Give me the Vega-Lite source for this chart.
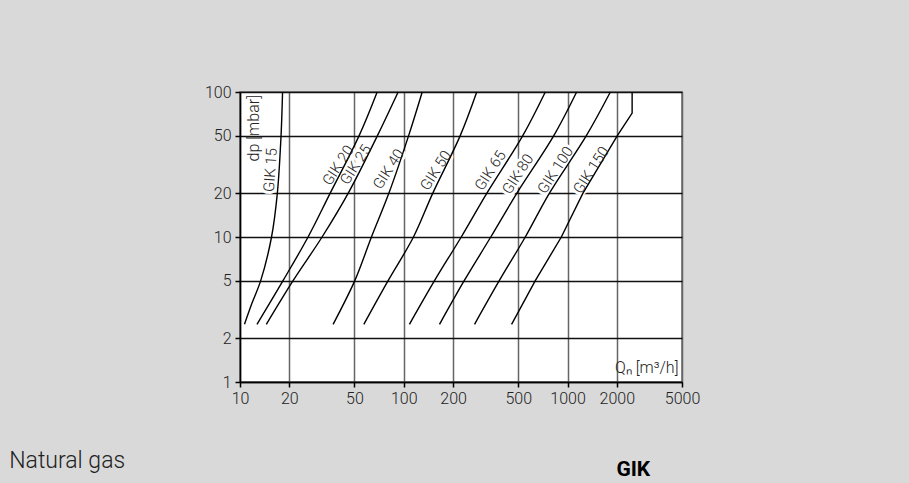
{
  "$schema": "https://vega.github.io/schema/vega-lite/v6.json",
  "width": 442,
  "height": 290,
  "autosize": {"type": "none"},
  "padding": {"left": 240, "top": 92, "right": 227, "bottom": 101},
  "background": "#d9d9d9",
  "config": {
    "view": {"fill": "white", "stroke": "#666666", "strokeWidth": 1.5},
    "font": "Roboto"
  },
  "datasets": {
    "curves": [
      {"series": "GIK 15", "q": 10.65, "dp": 2.5},
      {"series": "GIK 15", "q": 11.84, "dp": 3.5},
      {"series": "GIK 15", "q": 13.38, "dp": 5},
      {"series": "GIK 15", "q": 15.58, "dp": 10},
      {"series": "GIK 15", "q": 16.9, "dp": 20},
      {"series": "GIK 15", "q": 17.81, "dp": 50},
      {"series": "GIK 15", "q": 18.19, "dp": 100},
      {"series": "GIK 20", "q": 12.7, "dp": 2.5},
      {"series": "GIK 20", "q": 18.31, "dp": 5},
      {"series": "GIK 20", "q": 26.04, "dp": 10},
      {"series": "GIK 20", "q": 35.49, "dp": 20},
      {"series": "GIK 20", "q": 53.4, "dp": 50},
      {"series": "GIK 20", "q": 68.8, "dp": 100},
      {"series": "GIK 25", "q": 14.48, "dp": 2.5},
      {"series": "GIK 25", "q": 21.09, "dp": 5},
      {"series": "GIK 25", "q": 31.71, "dp": 10},
      {"series": "GIK 25", "q": 45.73, "dp": 20},
      {"series": "GIK 25", "q": 69.06, "dp": 50},
      {"series": "GIK 25", "q": 92.4, "dp": 100},
      {"series": "GIK 40", "q": 37.03, "dp": 2.5},
      {"series": "GIK 40", "q": 50.24, "dp": 5},
      {"series": "GIK 40", "q": 63.48, "dp": 10},
      {"series": "GIK 40", "q": 81.06, "dp": 20},
      {"series": "GIK 40", "q": 107.1, "dp": 50},
      {"series": "GIK 40", "q": 129.6, "dp": 100},
      {"series": "GIK 50", "q": 57.04, "dp": 2.5},
      {"series": "GIK 50", "q": 80.26, "dp": 5},
      {"series": "GIK 50", "q": 114.6, "dp": 10},
      {"series": "GIK 50", "q": 150.2, "dp": 20},
      {"series": "GIK 50", "q": 221.2, "dp": 50},
      {"series": "GIK 50", "q": 279.0, "dp": 100},
      {"series": "GIK 65", "q": 108.3, "dp": 2.5},
      {"series": "GIK 65", "q": 154.1, "dp": 5},
      {"series": "GIK 65", "q": 224.4, "dp": 10},
      {"series": "GIK 65", "q": 321.2, "dp": 20},
      {"series": "GIK 65", "q": 533.1, "dp": 50},
      {"series": "GIK 65", "q": 731.6, "dp": 100},
      {"series": "GIK 80", "q": 165.3, "dp": 2.5},
      {"series": "GIK 80", "q": 233.9, "dp": 5},
      {"series": "GIK 80", "q": 339.8, "dp": 10},
      {"series": "GIK 80", "q": 489.9, "dp": 20},
      {"series": "GIK 80", "q": 824.5, "dp": 50},
      {"series": "GIK 80", "q": 1136.7, "dp": 100},
      {"series": "GIK 100", "q": 270.5, "dp": 2.5},
      {"series": "GIK 100", "q": 382.9, "dp": 5},
      {"series": "GIK 100", "q": 552.1, "dp": 10},
      {"series": "GIK 100", "q": 773.9, "dp": 20},
      {"series": "GIK 100", "q": 1303, "dp": 50},
      {"series": "GIK 100", "q": 1826, "dp": 100},
      {"series": "GIK 150", "q": 455.3, "dp": 2.5},
      {"series": "GIK 150", "q": 635.6, "dp": 5},
      {"series": "GIK 150", "q": 916.6, "dp": 10},
      {"series": "GIK 150", "q": 1240, "dp": 20},
      {"series": "GIK 150", "q": 2015, "dp": 50},
      {"series": "GIK 150", "q": 2480, "dp": 71.6},
      {"series": "GIK 150", "q": 2480, "dp": 100}
    ],
    "labels": [
      {"label": "GIK 15", "q": 15.32, "dp": 29.0},
      {"label": "GIK 20", "q": 39.7, "dp": 31.2},
      {"label": "GIK 25", "q": 50.8, "dp": 31.6},
      {"label": "GIK 40", "q": 80.6, "dp": 29.4},
      {"label": "GIK 50", "q": 156.7, "dp": 28.8},
      {"label": "GIK 65", "q": 337.3, "dp": 28.8},
      {"label": "GIK 80", "q": 496.5, "dp": 27.2},
      {"label": "GIK 100", "q": 842.2, "dp": 29.0},
      {"label": "GIK 150", "q": 1394, "dp": 29.0}
    ],
    "notes": [
      {"note": "Natural gas", "q": 0.39, "dp": 0.2562},
      {"note": "GIK", "q": 1988, "dp": 0.223}
    ]
  },
  "encoding": {
    "x": {
      "field": "q",
      "type": "quantitative",
      "scale": {"type": "log", "domain": [10, 5000], "nice": false},
      "axis": {
        "values": [10, 20, 50, 100, 200, 500, 1000, 2000, 5000],
        "format": "d",
        "title": "Qₙ [m³/h]",
        "titleX": 438,
        "titleY": -10,
        "titleAlign": "right",
        "titleBaseline": "alphabetic",
        "titleFontSize": 16,
        "titleFontWeight": 300,
        "titleColor": "#222222",
        "labelFontSize": 16,
        "labelFontWeight": 300,
        "labelColor": "#222222",
        "labelFlush": false,
        "labelOverlap": false,
        "labelPadding": 3,
        "tickSize": 5,
        "tickColor": "#000000",
        "tickWidth": 1.5,
        "domainColor": "#000000",
        "domainWidth": 1.5,
        "grid": true,
        "gridColor": "#666666",
        "gridWidth": 1.5,
        "gridOpacity": 1
      }
    },
    "y": {
      "field": "dp",
      "type": "quantitative",
      "scale": {"type": "log", "domain": [1, 100], "nice": false},
      "axis": {
        "values": [1, 2, 5, 10, 20, 50, 100],
        "format": "d",
        "title": "dp [mbar]",
        "titleX": 13.3,
        "titleY": 35.7,
        "titleAngle": 270,
        "titleAlign": "center",
        "titleBaseline": "middle",
        "titleFontSize": 16,
        "titleFontWeight": 300,
        "titleColor": "#222222",
        "labelFontSize": 16,
        "labelFontWeight": 300,
        "labelColor": "#222222",
        "labelFlush": false,
        "labelOverlap": false,
        "labelPadding": 4,
        "tickSize": 5,
        "tickColor": "#000000",
        "tickWidth": 1.5,
        "domainColor": "#000000",
        "domainWidth": 1.5,
        "grid": true,
        "gridColor": "#111111",
        "gridWidth": 1.3,
        "gridOpacity": 1
      }
    }
  },
  "layer": [
    {
      "data": {"name": "labels"},
      "transform": [{"filter": "datum.label !== 'GIK 15'"}],
      "mark": {"type": "text", "angle": 303, "align": "center", "baseline": "middle", "fontSize": 15, "fontWeight": 300, "color": "white", "stroke": "white", "strokeWidth": 6, "strokeJoin": "round"},
      "encoding": {"text": {"field": "label"}}
    },
    {
      "data": {"name": "labels"},
      "transform": [{"filter": "datum.label === 'GIK 15'"}],
      "mark": {"type": "text", "angle": 274, "align": "center", "baseline": "middle", "fontSize": 15, "fontWeight": 300, "color": "white", "stroke": "white", "strokeWidth": 6, "strokeJoin": "round"},
      "encoding": {"text": {"field": "label"}}
    },
    {
      "data": {"name": "curves"},
      "transform": [{"filter": "datum.series !== 'GIK 150'"}],
      "mark": {"type": "line", "interpolate": "catmull-rom", "color": "#000000", "strokeWidth": 1.4},
      "encoding": {"detail": {"field": "series"}, "order": {"field": "dp"}}
    },
    {
      "data": {"name": "curves"},
      "transform": [{"filter": "datum.series === 'GIK 150'"}],
      "mark": {"type": "line", "interpolate": "linear", "color": "#000000", "strokeWidth": 1.4},
      "encoding": {"detail": {"field": "series"}, "order": {"field": "dp"}}
    },
    {
      "data": {"name": "labels"},
      "transform": [{"filter": "datum.label !== 'GIK 15'"}],
      "mark": {"type": "text", "angle": 303, "align": "center", "baseline": "middle", "fontSize": 15, "fontWeight": 300, "color": "#222222"},
      "encoding": {"text": {"field": "label"}}
    },
    {
      "data": {"name": "labels"},
      "transform": [{"filter": "datum.label === 'GIK 15'"}],
      "mark": {"type": "text", "angle": 274, "align": "center", "baseline": "middle", "fontSize": 15, "fontWeight": 300, "color": "#222222"},
      "encoding": {"text": {"field": "label"}}
    },
    {
      "data": {"name": "notes"},
      "transform": [{"filter": "datum.note === 'Natural gas'"}],
      "mark": {"type": "text", "align": "left", "baseline": "alphabetic", "fontSize": 23, "fontWeight": 300, "color": "#222222"},
      "encoding": {"text": {"field": "note"}}
    },
    {
      "data": {"name": "notes"},
      "transform": [{"filter": "datum.note === 'GIK'"}],
      "mark": {"type": "text", "align": "left", "baseline": "alphabetic", "fontSize": 21, "fontWeight": "bold", "color": "#000000"},
      "encoding": {"text": {"field": "note"}}
    }
  ]
}
